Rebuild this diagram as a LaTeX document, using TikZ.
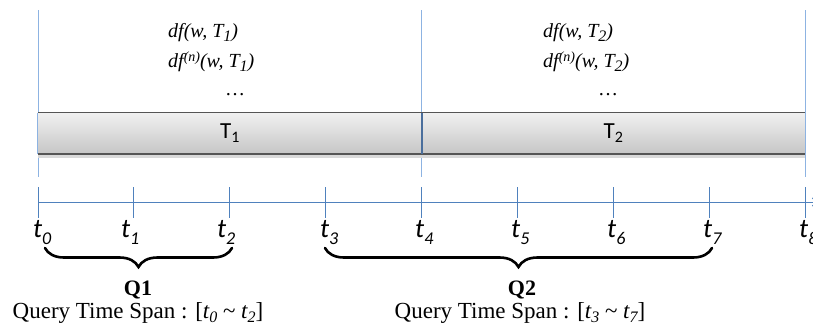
\documentclass[tikz,border=0pt]{standalone}
\usepackage{fontspec}
\usepackage{graphicx}
\setmainfont{Liberation Serif}
\newfontfamily\calibri{Carlito}
\usetikzlibrary{decorations.pathreplacing,arrows.meta,calc}
\definecolor{gridblue}{HTML}{8DB3E2}
\definecolor{axisblue}{HTML}{4F81BD}
\definecolor{dividerblue}{HTML}{4A6E9C}
\definecolor{barTop}{HTML}{F0F0F0}
\definecolor{barBot}{HTML}{C6C6C6}
\definecolor{barEdge}{HTML}{555555}
% lowered index: shift, size, text
\newcommand{\lowidx}[3]{\raisebox{#1}{\fontsize{#2}{#2}\selectfont #3}}
\begin{document}
\begin{tikzpicture}[x=1pt,y=-1pt,
  barseg/.style={draw=none, top color=barTop, bottom color=barBot,
    minimum width=383.5pt, minimum height=41pt, inner sep=0pt,
    font=\calibri\fontsize{23}{26}\selectfont},
  dftext/.style={anchor=base west, inner sep=0pt,
    font=\fontsize{20}{23}\selectfont\itshape},
  dots/.style={anchor=base, inner sep=0pt, font=\fontsize{20}{23}\selectfont},
  ticklbl/.style={anchor=base west, inner sep=0pt,
    font=\calibri\itshape\fontsize{27}{30}\selectfont},
  qname/.style={anchor=base, inner sep=0pt, font=\fontsize{22}{26}\selectfont\bfseries},
  qspan/.style={anchor=base, inner sep=0pt, font=\fontsize{23}{27}\selectfont},
  tickline/.style={draw=axisblue, line width=0.9pt},
  guide/.style={draw=gridblue, line width=1pt},
  qbrace/.style={decorate, decoration={brace, mirror, amplitude=19pt},
    line width=2.6pt, line cap=round},
]
\useasboundingbox (0,0) rectangle (813,327);

% tick positions along the time axis
\foreach \i in {0,...,8} {
  \coordinate (p\i) at ({38+95.875*\i},202);
  \coordinate (up\i) at ({38+95.875*\i},187);
  \coordinate (dn\i) at ({38+95.875*\i},218);
}

% vertical guides at period boundaries
\foreach \i in {0,4,8} {
  \coordinate (g\i top) at ({38+95.875*\i},10);
  \coordinate (g\i bot) at ({38+95.875*\i},177);
  \draw[guide] (g\i top) -- (g\i bot);
}

% period bar
\fill[black!15] (38,154) rectangle (805,158);
\node[barseg] (T1) at (229.75,133.5) {T\lowidx{-4pt}{16}{1}};
\node[barseg] (T2) at (613.25,133.5) {T\lowidx{-4pt}{16}{2}};
\draw[barEdge, line width=1pt] (T1.north west) -- (T2.north east);
\draw[barEdge, line width=2pt] (T1.south west) -- (T2.south east);
\draw[guide] (T1.north west) -- (T1.south west);
\draw[guide] (T2.north east) -- (T2.south east);
\draw[dividerblue, line width=1.6pt] (T1.north east) -- (T1.south east);

% per-period statistics
\node[dftext] (a1) at (168,37) {df(w, T\lowidx{-4pt}{16}{1})};
\node[dftext] (b1) at (168,67) {df\lowidx{6pt}{14}{(n)}(w, T\lowidx{-4pt}{16}{1})};
\node[dots] (c1) at (235,95) {\dots};
\node[dftext] (a2) at (543,37) {df(w, T\lowidx{-4pt}{16}{2})};
\node[dftext] (b2) at (543,67) {df\lowidx{6pt}{14}{(n)}(w, T\lowidx{-4pt}{16}{2})};
\node[dots] (c2) at (608,95) {\dots};

% time axis
\coordinate (axend) at (818,202);
\draw[axisblue, line width=1pt, -{Straight Barb[length=5pt,width=8pt]}] (p0) -- (axend);
\foreach \i/\lx in {0/33,1/121,2/217,3/320,4/415,5/511,6/607,7/703,8/799} {
  \draw[tickline] (up\i) -- (dn\i);
  \node[ticklbl] (t\i) at (\lx,237) {t\lowidx{-7pt}{18}{\i}};
}

% query spans
\coordinate (q1a) at (45,248);
\coordinate (q1b) at (232,248);
\coordinate (q2a) at (325,248);
\coordinate (q2b) at (712,248);
\draw[qbrace] (q1a) -- (q1b);
\draw[qbrace] (q2a) -- (q2b);
\node[qname] (Q1) at (138,295) {Q1};
\node[qname] (Q2) at (522,295) {Q2};
\node[qspan] (S1) at (138,318) {Query Time Span : [\textit{t\lowidx{-4pt}{16}{0}} \textasciitilde{} \textit{t\lowidx{-4pt}{16}{2}}]};
\node[qspan] (S2) at (520,318) {Query Time Span : [\textit{t\lowidx{-4pt}{16}{3}} \textasciitilde{} \textit{t\lowidx{-4pt}{16}{7}}]};
\end{tikzpicture}
\end{document}
